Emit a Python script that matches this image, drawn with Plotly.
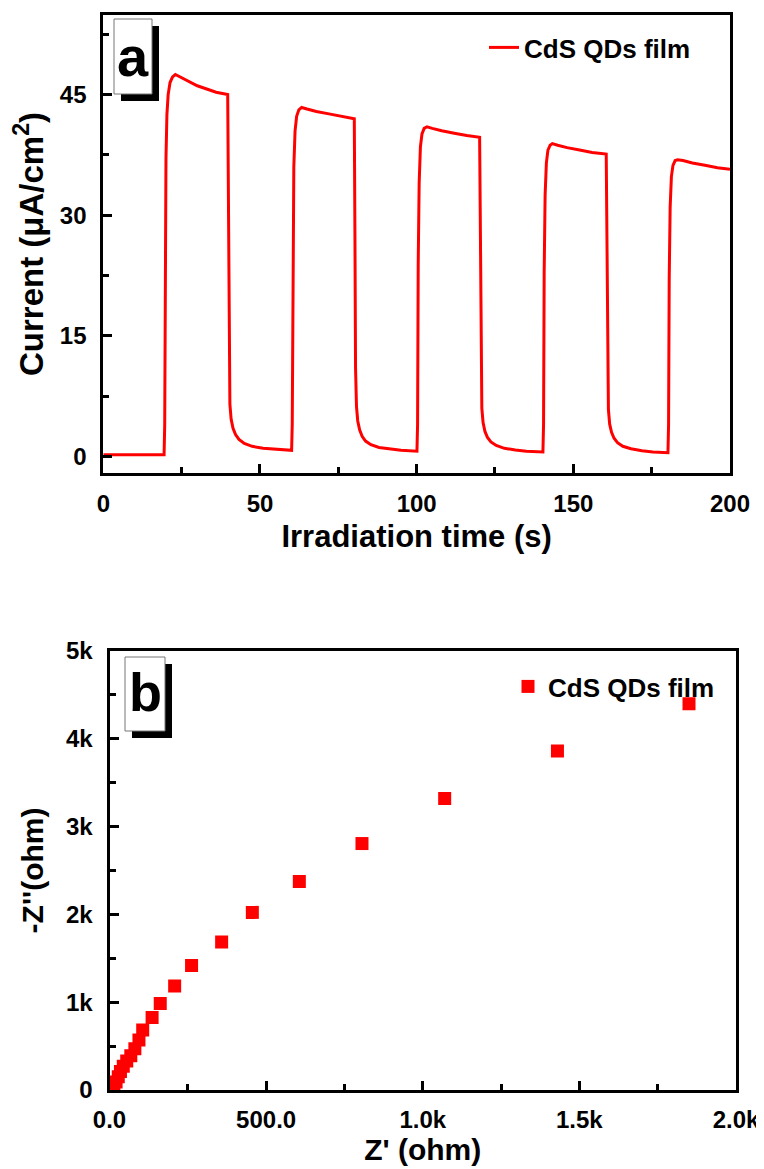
import plotly.graph_objects as go

# The page body has an 8px default margin, so the figure is drawn 8px in
# from the top-left corner; size it so it exactly fills the 764x1169 window.
PAGE_W, PAGE_H, BODY_MARGIN = 764, 1169, 8
W, H = PAGE_W - BODY_MARGIN, PAGE_H - BODY_MARGIN

# ---------------- data: panel (a) photocurrent ----------------
time_s = [
    0, 19.4, 19.6, 19.8, 20.0, 20.3, 20.7, 21.3, 22.1, 23.0, 24.5, 27, 30, 33, 36, 39.7,
    39.9, 40.1, 40.4, 40.8, 41.4, 42.2, 43.3, 45, 47.5, 51, 55, 60.1,
    60.3, 60.5, 60.8, 61.2, 61.7, 62.4, 63.3, 65, 68, 72, 76, 80.1,
    80.3, 80.5, 80.8, 81.2, 81.8, 82.6, 83.7, 85.4, 88, 91.5, 95, 100.1,
    100.3, 100.5, 100.8, 101.2, 101.7, 102.4, 103.3, 105, 108, 112, 116, 120.1,
    120.3, 120.5, 120.8, 121.2, 121.8, 122.6, 123.7, 125.4, 128, 131.5, 135, 140.3,
    140.5, 140.7, 141.0, 141.4, 141.9, 142.6, 143.3, 145, 148, 152, 156, 160.5,
    160.7, 160.9, 161.2, 161.6, 162.2, 163.0, 164.1, 165.8, 168.4, 171.9, 175.4, 180.2,
    180.4, 180.6, 180.9, 181.3, 181.8, 182.5, 183.3, 185, 188, 192, 196, 200,
]
current_uA = [
    0.2, 0.2, 4, 25, 37, 42.5, 45.0, 46.5, 47.2, 47.5, 47.2, 46.6, 46.1, 45.7, 45.3, 45.0,
    30, 12, 6.5, 4.6, 3.5, 2.7, 2.1, 1.6, 1.25, 1.0, 0.85, 0.75,
    4, 25, 36, 40.5, 42.3, 43.1, 43.4, 43.2, 42.9, 42.6, 42.3, 42.0,
    28, 11, 6.2, 4.4, 3.3, 2.5, 1.9, 1.45, 1.1, 0.9, 0.75, 0.65,
    4, 24, 34, 38.5, 40.1, 40.8, 41.0, 40.8, 40.5, 40.2, 39.9, 39.7,
    27, 10.5, 6.0, 4.2, 3.1, 2.35, 1.8, 1.35, 1.0, 0.8, 0.65, 0.55,
    4, 23, 32.5, 36.5, 38.1, 38.7, 38.9, 38.7, 38.4, 38.1, 37.8, 37.6,
    26, 10, 5.8, 4.0, 3.0, 2.25, 1.7, 1.25, 0.95, 0.7, 0.55, 0.45,
    4, 22, 31, 34.8, 36.2, 36.8, 36.9, 36.8, 36.5, 36.2, 35.9, 35.7,
]

# ---------------- data: panel (b) Nyquist ----------------
z_real = [8, 14, 21, 28, 35, 44, 55, 68, 81, 94, 106, 136, 162, 208, 262,
          358, 456, 606, 806, 1070, 1430, 1850]
z_imag = [5, 40, 90, 150, 210, 270, 330, 390, 470, 570, 682, 826, 985, 1185, 1417,
          1685, 2023, 2375, 2807, 3320, 3860, 4400]

series_name = "CdS QDs film"

xa_ticks = [0, 50, 100, 150, 200]
ya_ticks = [0, 15, 30, 45]
xb_tickvals = [0, 500, 1000, 1500, 2000]
xb_ticktext = ["0.0", "500.0", "1.0k", "1.5k", "2.0k"]
yb_tickvals = [0, 1000, 2000, 3000, 4000, 5000]
yb_ticktext = ["0", "1k", "2k", "3k", "4k", "5k"]

FONT = "Liberation Sans, Arial, sans-serif"
RED = "#ff0000"


def fx(px):
    """page pixel x -> paper fraction"""
    return (px - BODY_MARGIN) / W


def fy(py):
    """page pixel y -> paper fraction"""
    return 1 - (py - BODY_MARGIN) / H


fig = go.Figure()
fig.add_trace(go.Scatter(
    x=time_s, y=current_uA, mode="lines", name=series_name,
    line=dict(color=RED, width=3), xaxis="x", yaxis="y", legend="legend",
))
fig.add_trace(go.Scatter(
    x=z_real, y=z_imag, mode="markers", name=series_name,
    marker=dict(symbol="square", size=13, color=RED, line=dict(width=0)),
    xaxis="x2", yaxis="y2", legend="legend2",
))

tickfont = dict(family=FONT, size=24, color="black", weight="bold")
titlefont = dict(family=FONT, size=31, color="black", weight="bold")
legendfont = dict(family=FONT, size=26, color="black", weight="bold")

common = dict(
    showline=True, linewidth=3, linecolor="black", mirror=True,
    ticks="inside", ticklen=9, tickwidth=2.5, tickcolor="black",
    showgrid=False, zeroline=False, tickfont=tickfont, automargin=False,
)
minor_common = dict(ticks="inside", ticklen=6, tickwidth=2.5, tickcolor="black")

fig.update_layout(
    width=W, height=H,
    margin=dict(l=0, r=0, t=0, b=0, pad=0),
    paper_bgcolor="white", plot_bgcolor="white",
    font=dict(family=FONT, color="black"),
    xaxis=dict(
        domain=[fx(103.3), fx(730)], range=[0, 200], anchor="y",
        tickvals=xa_ticks, ticklabelstandoff=7,
        minor=dict(dtick=25, **minor_common),
        title=dict(text="Irradiation time (s)", font=titlefont, standoff=10),
        **common,
    ),
    yaxis=dict(
        domain=[fy(473), fy(15)], range=[-2.07, 54.9], anchor="x",
        tickvals=ya_ticks, ticklabelstandoff=9,
        minor=dict(dtick=7.5, **minor_common),
        title=dict(text="Current (μA/cm<sup>2</sup>)",
                   font=dict(family=FONT, size=33, color="black", weight="bold"), standoff=12),
        **common,
    ),
    xaxis2=dict(
        domain=[fx(109.5), fx(736)], range=[0, 2000], anchor="y2",
        tickvals=xb_tickvals, ticktext=xb_ticktext, ticklabelstandoff=6,
        minor=dict(dtick=250, **minor_common),
        title=dict(text="Z' (ohm)", font=dict(family=FONT, size=30, color="black", weight="bold"), standoff=4),
        **common,
    ),
    yaxis2=dict(
        domain=[fy(1090), fy(651)], range=[0, 5000], anchor="x2",
        tickvals=yb_tickvals, ticktext=yb_ticktext, ticklabelstandoff=9,
        minor=dict(dtick=500, **minor_common),
        title=dict(text="-Z''(ohm)", font=dict(family=FONT, size=30, color="black", weight="bold"), standoff=14),
        **common,
    ),
    legend=dict(
        x=fx(484), y=fy(24), xanchor="left", yanchor="top",
        bgcolor="rgba(0,0,0,0)", borderwidth=0, font=legendfont,
    ),
    legend2=dict(
        x=fx(508), y=fy(663), xanchor="left", yanchor="top",
        bgcolor="rgba(0,0,0,0)", borderwidth=0, font=legendfont,
    ),
    showlegend=True,
)

# panel label boxes with drop shadow
shapes = []
for (x0, y0, x1, y1) in [(114, 19, 152, 94), (125, 657, 165, 731)]:
    shapes.append(dict(type="rect", xref="paper", yref="paper",
                       x0=fx(x0 + 7), x1=fx(x1 + 7), y0=fy(y1 + 7), y1=fy(y0 + 7),
                       fillcolor="black", line=dict(width=0), layer="above"))
    shapes.append(dict(type="rect", xref="paper", yref="paper",
                       x0=fx(x0), x1=fx(x1), y0=fy(y1), y1=fy(y0),
                       fillcolor="white", line=dict(color="#777777", width=1), layer="above"))
fig.update_layout(shapes=shapes)

fig.add_annotation(x=fx(133), y=fy(56), xref="paper", yref="paper", text="a",
                   showarrow=False, xanchor="center", yanchor="middle",
                   font=dict(family=FONT, size=56, color="black", weight="bold"))
fig.add_annotation(x=fx(145), y=fy(692), xref="paper", yref="paper", text="b",
                   showarrow=False, xanchor="center", yanchor="middle",
                   font=dict(family=FONT, size=54, color="black", weight="bold"))

fig.write_html("out.html")
